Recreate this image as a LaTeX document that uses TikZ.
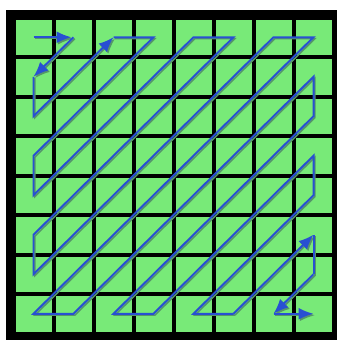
\documentclass[tikz,border=0pt]{standalone}
\usepackage{xcolor}
\usepackage{tikz}
\usetikzlibrary{arrows.meta}
\definecolor{cellgreen}{RGB}{120,234,120}
\definecolor{zigblue}{RGB}{40,80,210}
\definecolor{zigshadow}{RGB}{85,150,105}
\begin{document}
\begin{tikzpicture}[x=0.02cm,y=-0.02cm,
    cell/.style={fill=cellgreen},
    zz/.style={draw=zigblue,line width=0.04cm,line join=miter,
      preaction={draw=zigshadow,line width=0.03cm,
        transform canvas={shift={(0.8pt,-0.8pt)}}}},
    tip/.style={-{Latex[length=0.3cm,width=0.24cm]}}]
  \useasboundingbox (0,0) rectangle (342,342);
  % ---- Block and cells ----
  \fill[black] (6,10) rectangle (337,340);
  \foreach \i in {0,...,7}
    \foreach \j in {0,...,7}
      \fill[cell] ({15.5+40*\i},{19.5+39.5*\j}) rectangle ++(36,35.5);
  % ---- Cell centres ----
  \foreach \i in {0,...,7}
    \foreach \j in {0,...,7}
      \coordinate (c\i\j) at ({33.5+40*\i},{37.25+39.5*\j});

  % ---- Zigzag scan ----
  \draw[zz,tip] (c00) -- ([xshift=-0.04cm]c10);
  \draw[zz,tip] (c10) -- (c01);
  \draw[zz,tip] (c01) -- (c02) -- (c20);
  \draw[zz] (c20) -- (c30) -- (c03) -- (c04) -- (c40) -- (c50) -- (c05)
    -- (c06) -- (c60) -- (c70) -- (c07) -- (c17) -- (c71) -- (c72)
    -- (c27) -- (c37) -- (c73) -- (c74) -- (c47) -- (c57);
  \draw[zz,tip] (c57) -- (c75);
  \draw[zz] (c75) -- (c76);
  \draw[zz,tip] (c76) -- (c67);
  \draw[zz,tip] (c67) -- (c77);
\end{tikzpicture}
\end{document}
